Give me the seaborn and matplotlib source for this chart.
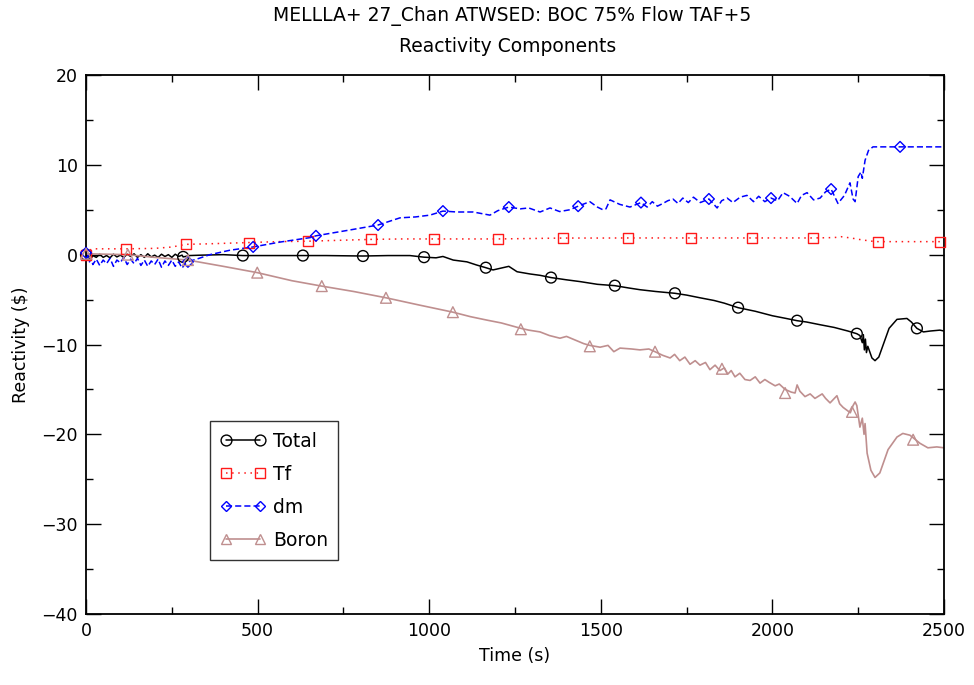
import numpy as np
import pandas as pd
import matplotlib
matplotlib.use("Agg")
import matplotlib.pyplot as plt
from matplotlib.lines import Line2D
from matplotlib.ticker import MultipleLocator
import seaborn as sns

# ---------------- data ----------------
total_t = [0, 5, 10, 15, 20, 30, 40, 50, 60, 70, 80, 90, 100, 110, 120, 130, 140, 150, 160, 170,
           180, 190, 200, 210, 220, 230, 240, 250, 260, 270, 280, 283, 290, 300,
           340, 400, 457, 550, 632, 700, 807, 880, 944, 985, 1020, 1040, 1070, 1110, 1138, 1165,
           1186, 1232, 1256, 1294, 1323, 1355, 1400, 1440, 1490, 1541, 1580, 1614, 1660, 1716,
           1750, 1789, 1830, 1860, 1900, 1950, 2000, 2040, 2072, 2100, 2139, 2180, 2220, 2246,
           2255, 2262, 2265, 2268, 2271, 2274, 2278, 2290, 2299, 2310, 2325, 2340, 2363, 2392,
           2405, 2421, 2440, 2460, 2488, 2500]
total_v = [0.0, -0.3, -0.1, -0.4, -0.1, -0.3, 0.05, -0.3, -0.1, -0.35, 0.05, -0.25, -0.05, -0.3,
           0.05, -0.2, 0.1, -0.3, 0.0, -0.3, 0.1, -0.25, -0.05, -0.3, 0.05, -0.2, 0.0, -0.3, 0.05,
           -0.2, -0.05, -0.25, -0.2, -0.1,
           -0.05, 0.0, -0.1, -0.1, -0.1, -0.1, -0.15, -0.1, -0.1, -0.28, -0.35, -0.2, -0.6, -0.8,
           -1.15, -1.45,
           -1.7, -1.3, -1.9, -2.15, -2.3, -2.55, -2.8, -3.0, -3.3, -3.45, -3.7, -3.9, -4.1, -4.3,
           -4.5, -4.8, -5.1, -5.4, -5.9, -6.3, -6.8, -7.1, -7.35, -7.5, -7.8, -8.1, -8.5, -8.8,
           -9.0, -9.8, -8.9, -10.6, -9.4, -10.9, -10.2, -11.5, -11.8, -11.4, -9.8, -8.2, -7.2, -7.1,
           -7.5, -8.2, -8.6, -8.5, -8.4, -8.5]
total_mark_t = [0, 283, 457, 632, 807, 985, 1165, 1355, 1541, 1716, 1900, 2072, 2246, 2421]
total_mark_v = [0.0, -0.25, -0.1, -0.1, -0.15, -0.28, -1.45, -2.55, -3.45, -4.3, -5.9, -7.35, -8.8, -8.2]

tf_t = [0, 10, 20, 117, 200, 250, 291, 350, 475, 560, 647, 740, 830, 920, 1014, 1200, 1300,
        1390, 1500, 1579, 1763, 1941, 2118, 2180, 2200, 2230, 2260, 2290, 2308, 2400, 2488, 2500]
tf_v = [0.0, 0.5, 0.65, 0.65, 0.7, 0.85, 1.15, 1.2, 1.35, 1.45, 1.5, 1.6, 1.7, 1.75, 1.75, 1.75,
        1.8, 1.85, 1.85, 1.86, 1.86, 1.86, 1.86, 1.9, 2.0, 1.85, 1.65, 1.5, 1.45, 1.45, 1.45, 1.45]
tf_mark_t = [0, 117, 291, 475, 647, 830, 1014, 1200, 1390, 1579, 1763, 1941, 2118, 2308, 2488]
tf_mark_v = [0.0, 0.65, 1.15, 1.35, 1.5, 1.7, 1.75, 1.75, 1.85, 1.86, 1.86, 1.86, 1.86, 1.45, 1.45]

dm_t = [0, 5, 10, 15, 20, 30, 40, 50, 60, 70, 80, 90, 100, 110, 120, 130, 140, 150, 160, 170,
        180, 190, 200, 210, 220, 230, 240, 250, 260, 270, 280, 290, 297,
        330, 361, 420, 487, 565, 653, 670, 769, 851, 915, 960, 1002, 1040, 1081, 1128, 1177,
        1200, 1232, 1265, 1290, 1323, 1352, 1380, 1410, 1434, 1468, 1490, 1506, 1515, 1527,
        1555, 1585, 1617, 1635, 1650, 1665, 1681, 1695, 1710, 1725, 1739, 1755, 1770, 1790,
        1809, 1815, 1839, 1852, 1868, 1885, 1906, 1926, 1945, 1960, 1978, 1996, 2015, 2031,
        2050, 2072, 2085, 2101, 2120, 2139, 2155, 2171, 2191, 2210, 2226, 2235, 2241, 2250,
        2258, 2262, 2270, 2280, 2293, 2372, 2500]
dm_v = [0.2, -0.3, -0.8, -0.4, -1.1, -0.5, -1.2, -0.6, -1.0, -0.4, -1.3, -0.6, -0.9, -0.3, -1.1,
        -0.5, -1.0, -0.4, -1.2, -0.6, -1.3, -0.7, -1.1, -0.5, -1.4, -0.7, -1.2, -0.6, -1.3, -0.8,
        -1.5, -0.9, -0.8,
        -0.4, 0.0, 0.5, 0.86, 1.4, 1.9, 2.1, 2.75, 3.3, 4.1, 4.2, 4.4, 4.85, 4.75, 4.75, 4.4,
        4.9, 5.3, 5.1, 5.2, 4.75, 5.2, 4.8, 5.0, 5.4, 5.9, 5.3, 5.0, 5.1, 6.1,
        5.6, 5.3, 5.8, 5.3, 5.9, 5.4, 5.7, 6.0, 6.2, 5.7, 6.3, 5.8, 6.4, 5.8,
        6.1, 6.2, 5.2, 6.0, 6.3, 5.8, 6.4, 6.6, 5.9, 6.5, 5.9, 6.3, 6.0, 6.9,
        6.5, 5.7, 6.6, 6.9, 6.1, 6.3, 7.0, 7.3, 5.7, 6.6, 8.0, 6.2, 5.9, 8.7,
        9.2, 8.5, 10.5, 11.6, 12.0, 12.0, 12.0]
dm_mark_t = [0, 297, 487, 670, 851, 1040, 1232, 1434, 1617, 1815, 1996, 2171, 2372]
dm_mark_v = [0.2, -0.8, 0.86, 2.1, 3.3, 4.85, 5.3, 5.4, 5.8, 6.2, 6.3, 7.3, 12.0]

boron_t = [0, 122, 200, 297, 400, 499, 600, 687, 780, 874, 970, 1069, 1120, 1170, 1210, 1267,
           1290, 1323, 1350, 1381, 1400, 1425, 1450, 1468, 1498, 1521, 1538, 1556, 1590, 1614,
           1640, 1658, 1680, 1702, 1715, 1730, 1745, 1760, 1775, 1789, 1805, 1818, 1833, 1847,
           1860, 1870, 1880, 1891, 1905, 1920, 1935, 1950, 1964, 1978, 1990, 2008, 2020, 2037,
           2055, 2066, 2072, 2080, 2095, 2110, 2124, 2145, 2155, 2168, 2188, 2196, 2206, 2227,
           2235, 2241, 2246, 2255, 2262, 2267, 2270, 2276, 2287, 2299, 2313, 2337, 2363, 2380,
           2401, 2430, 2453, 2479, 2500]
boron_v = [0.1, 0.0, -0.3, -0.6, -1.3, -2.0, -2.9, -3.5, -4.1, -4.8, -5.6, -6.4, -6.9, -7.3,
           -7.6, -8.2, -8.4, -8.6, -9.0, -9.3, -9.1, -9.5, -9.9, -10.1, -10.3, -10.1, -10.8,
           -10.4, -10.5, -10.6, -10.5, -10.8, -11.2, -11.5, -11.1, -11.8, -11.4, -12.2, -11.8,
           -12.3, -12.0, -12.8, -12.3, -12.9, -12.6, -13.3, -12.9, -13.6, -13.2, -13.9, -14.0,
           -13.6, -14.3, -13.9, -14.2, -14.6, -14.4, -15.0, -15.3, -15.4, -14.5, -15.2, -15.8,
           -15.5, -16.0, -15.5, -16.0, -16.5, -15.7, -16.6, -17.0, -17.6, -16.8, -16.4, -16.8,
           -19.2, -18.2, -20.0, -18.8, -22.1, -24.0, -24.8, -24.3, -21.7, -20.3, -19.9, -20.1,
           -21.0, -21.5, -21.4, -21.5]
boron_mark_t = [0, 122, 297, 499, 687, 874, 1069, 1267, 1468, 1658, 1853, 2037, 2232, 2410]
boron_mark_v = [0.1, 0.0, -0.6, -2.0, -3.5, -4.8, -6.4, -8.3, -10.2, -10.8, -12.7, -15.4, -17.5, -20.6]

series_names = ["Total", "Tf", "dm", "Boron"]
title_lines = ["MELLLA+ 27_Chan ATWSED: BOC 75% Flow TAF+5", "Reactivity Components"]

# ---------------- styling ----------------
sns.set_style("ticks")
plt.rcParams['font.family'] = ['DejaVu Sans']
plt.rcParams['text.color'] = 'black'
plt.rcParams['axes.labelcolor'] = 'black'
plt.rcParams['xtick.color'] = 'black'
plt.rcParams['ytick.color'] = 'black'
plt.rcParams['axes.unicode_minus'] = True

fig = plt.figure(figsize=(9.74, 6.85), dpi=100)
ax = fig.add_axes([86 / 974, 1 - 614 / 685, 858 / 974, 539 / 685])

styles = {
    "Total": dict(color="black", ls="-", marker="o", ms=7.8, lw=1.1),
    "Tf": dict(color="#ff1a1a", ls=(0, (1, 3)), marker="s", ms=7.2, lw=1.1),
    "dm": dict(color="#0000ff", ls=(0, (4, 2)), marker="D", ms=5.5, lw=1.1),
    "Boron": dict(color="#bf8f8f", ls="-", marker="^", ms=7.8, lw=1.2),
}
data = {
    "Total": (total_t, total_v, total_mark_t, total_mark_v),
    "Tf": (tf_t, tf_v, tf_mark_t, tf_mark_v),
    "dm": (dm_t, dm_v, dm_mark_t, dm_mark_v),
    "Boron": (boron_t, boron_v, boron_mark_t, boron_mark_v),
}

handles = []
for name in series_names:
    t, v, mt, mv = data[name]
    st = styles[name]
    df = pd.DataFrame({"t": t, "v": v})
    sns.lineplot(data=df, x="t", y="v", ax=ax, sort=False, estimator=None,
                 color=st["color"], linestyle=st["ls"], linewidth=st["lw"])
    mdf = pd.DataFrame({"t": mt, "v": mv})
    sns.scatterplot(data=mdf, x="t", y="v", ax=ax, marker=st["marker"], s=st["ms"] ** 2,
                    facecolor="none", edgecolor=st["color"], linewidth=1.0, zorder=3,
                    clip_on=False)
    handles.append(Line2D([0], [0], color=st["color"], linestyle=st["ls"], linewidth=st["lw"],
                          marker=st["marker"], markersize=st["ms"], markerfacecolor="none",
                          markeredgecolor=st["color"], markeredgewidth=1.0, label=name))

ax.xaxis.set_major_locator(MultipleLocator(500))
ax.xaxis.set_minor_locator(MultipleLocator(250))
ax.yaxis.set_major_locator(MultipleLocator(10))
ax.yaxis.set_minor_locator(MultipleLocator(5))
ax.set_xlim(0, 2500)
ax.set_ylim(-40, 20)
ax.tick_params(which="both", direction="in", top=True, right=True, color="black",
               labelcolor="black", width=1.0, labelsize=12.5, pad=6)
ax.tick_params(which="major", length=11)
ax.tick_params(which="minor", length=5)
for sp in ax.spines.values():
    sp.set_visible(True)
    sp.set_color("black")
    sp.set_linewidth(1.3)

ax.set_xlabel("Time (s)", fontsize=12.5, labelpad=5, color="black")
ax.set_ylabel("Reactivity ($)", fontsize=12.5, labelpad=8, color="black")

fig.text(512 / 974, 1 - 16 / 685, title_lines[0], ha="center", va="center", fontsize=13.5,
         color="black")
fig.text(508 / 974, 1 - 46 / 685, title_lines[1], ha="center", va="center", fontsize=13.5,
         color="black")

leg = ax.legend(handles=handles, loc="lower left", bbox_to_anchor=(0.1445, 0.100),
                numpoints=2, handlelength=2.4, fontsize=13.5, frameon=True, fancybox=False,
                borderpad=0.55, labelspacing=0.75, handletextpad=0.4, borderaxespad=0)
leg.get_frame().set_edgecolor("black")
leg.get_frame().set_linewidth(1.0)
for txt in leg.get_texts():
    txt.set_color("black")

fig.savefig("out.png", dpi=100)
